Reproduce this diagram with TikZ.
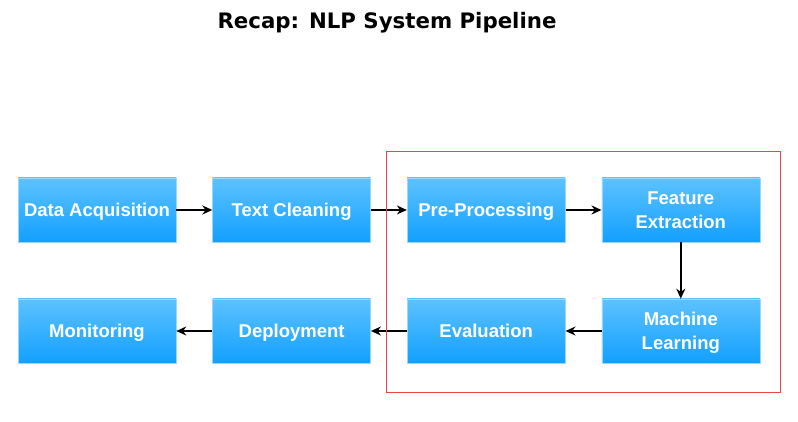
\documentclass[tikz,border=0pt]{standalone}
\usepackage{fontspec}
\setmainfont{Liberation Sans}
\newfontfamily\titlefont{DejaVu Sans}
\usepackage{tikz}
\usetikzlibrary{positioning, arrows.meta}
\definecolor{boxtop}{HTML}{5DC2FF}
\definecolor{boxbot}{HTML}{12A0FF}
\definecolor{boxline}{HTML}{9AD6FF}
\definecolor{focusred}{HTML}{E8463E}
\tikzset{
  stage/.style={rectangle, minimum width=158pt, minimum height=64pt,
    top color=boxtop, bottom color=boxbot, draw=boxline, line width=0.6pt,
    text=white, align=center, inner sep=2pt, text height=17pt, text depth=4pt,
    font=\fontsize{18.5}{24}\selectfont\bfseries},
  twolines/.style={text height=41pt},
  flow/.style={->, line width=1.6pt}
}

\begin{document}
\begin{tikzpicture}[x=1pt, y=1pt, >={Stealth[length=10pt, width=9pt]}]
        \useasboundingbox (0,0) rectangle (798,422);
        \node[font=\titlefont\bfseries\fontsize{21.3}{24}\selectfont] (title) at (387,399) {Recap: NLP System Pipeline};
        % upper row
        \node[stage] (acq) at (97,212) {Data Acquisition};
        \node[stage, right=36pt of acq] (clean) {Text Cleaning};
        \node[stage, right=36pt of clean] (prep) {Pre-Processing};
        \node[stage, twolines, right=36pt of prep] (feat) {Feature\\Extraction};
        % lower row
        \node[stage] (mon) at (97,91) {Monitoring};
        \node[stage, right=36pt of mon] (dep) {Deployment};
        \node[stage, right=36pt of dep] (eval) {Evaluation};
        \node[stage, twolines, right=36pt of eval] (ml) {Machine\\Learning};
        % connectors
        \draw[flow] (acq) -- (clean);
        \draw[flow] (clean) -- (prep);
        \draw[flow] (prep) -- (feat);
        \draw[flow] (feat) -- (ml);
        \draw[flow] (ml) -- (eval);
        \draw[flow] (eval) -- (dep);
        \draw[flow] (dep) -- (mon);
        % highlighted part
        \draw[focusred, line width=1pt] (386,29) rectangle (780,270);
    \end{tikzpicture}
\end{document}
